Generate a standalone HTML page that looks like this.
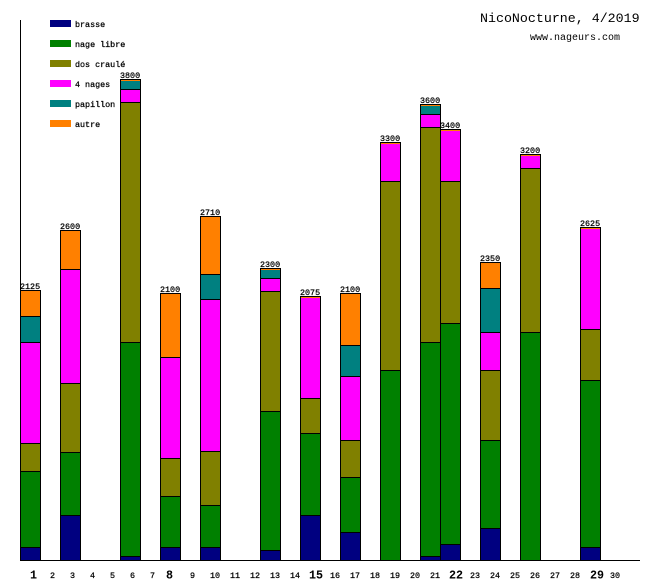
<!DOCTYPE html>
<html><head><meta charset="utf-8"><style>
html,body{margin:0;padding:0;background:#fff;}
svg{display:block;}
text{font-family:"Liberation Mono","DejaVu Sans Mono",monospace;fill:#000;}
.s{font-size:8.4px;stroke:#000;stroke-width:0.25px;}
.b{font-size:11.7px;font-weight:bold;}
</style></head><body>
<svg width="660" height="580" viewBox="0 0 660 580" xmlns="http://www.w3.org/2000/svg">
<rect width="660" height="580" fill="#fff"/>
<g shape-rendering="crispEdges">
<line x1="20.5" y1="20" x2="20.5" y2="561" stroke="#000"/>
<line x1="20" y1="560.5" x2="640" y2="560.5" stroke="#000"/>
</g>
<!-- legend -->
<g shape-rendering="crispEdges">
<rect x="50" y="20" width="21" height="7" fill="#000080"/>
<rect x="50" y="40" width="21" height="7" fill="#008000"/>
<rect x="50" y="60" width="21" height="7" fill="#808000"/>
<rect x="50" y="80" width="21" height="7" fill="#ff00ff"/>
<rect x="50" y="100" width="21" height="7" fill="#008080"/>
<rect x="50" y="120" width="21" height="7" fill="#ff8000"/>
</g>
<g>
<text class="s" x="75" y="27">brasse</text>
<text class="s" x="75" y="47">nage libre</text>
<text class="s" x="75" y="67">dos craulé</text>
<text class="s" x="75" y="87">4 nages</text>
<text class="s" x="75" y="107">papillon</text>
<text class="s" x="75" y="127">autre</text>
</g>
<text x="480" y="22" style="font-size:13.3px">NicoNocturne, 4/2019</text>
<text x="530" y="40" style="font-size:10px">www.nageurs.com</text>
<g id="bars" shape-rendering="crispEdges" stroke="#000" stroke-width="1"></g>
<g id="thin" shape-rendering="crispEdges"></g>
<g id="vals"></g>
<g id="xl"></g>
</svg>
<script>
var C={br:"#000080",nl:"#008000",dos:"#808000",n4:"#ff00ff",pap:"#008080",au:"#ff8000"};
var bars=[
[1,2125,[["au",290,316],["pap",316,342],["n4",342,443],["dos",443,471],["nl",471,547],["br",547,560]],0],
[3,2600,[["au",230,269],["n4",269,383],["dos",383,452],["nl",452,515],["br",515,560]],0],
[6,3800,[["pap",79,89],["n4",89,102],["dos",102,342],["nl",342,556],["br",556,560]],1],
[8,2100,[["au",293,357],["n4",357,458],["dos",458,496],["nl",496,547],["br",547,560]],0],
[10,2710,[["au",216,274],["pap",274,299],["n4",299,451],["dos",451,505],["nl",505,547],["br",547,560]],0],
[13,2300,[["pap",268,278],["n4",278,291],["dos",291,411],["nl",411,550],["br",550,560]],1],
[15,2075,[["n4",296,398],["dos",398,433],["nl",433,515],["br",515,560]],1],
[17,2100,[["au",293,345],["pap",345,376],["n4",376,440],["dos",440,477],["nl",477,532],["br",532,560]],0],
[19,3300,[["n4",142,181],["dos",181,370],["nl",370,560]],1],
[21,3600,[["pap",104,114],["n4",114,127],["dos",127,342],["nl",342,556],["br",556,560]],1],
[22,3400,[["n4",129,181],["dos",181,323],["nl",323,544],["br",544,560]],1],
[24,2350,[["au",262,288],["pap",288,332],["n4",332,370],["dos",370,440],["nl",440,528],["br",528,560]],0],
[26,3200,[["n4",154,168],["dos",168,332],["nl",332,560]],1],
[29,2625,[["n4",227,329],["dos",329,380],["nl",380,547],["br",547,560]],1]
];
var NS="http://www.w3.org/2000/svg";
function el(n,a,p,t){var e=document.createElementNS(NS,n);for(var k in a)e.setAttribute(k,a[k]);if(t!=null)e.textContent=t;document.getElementById(p).appendChild(e);return e;}
bars.forEach(function(b){
 var x=20*b[0];var segs=b[2].slice().reverse();
 segs.forEach(function(s){el("rect",{x:x+0.5,y:s[1]+0.5,width:20,height:s[2]-s[1],fill:C[s[0]]},"bars");});
 var top=b[2][0][1];
 if(b[3])el("rect",{x:x+1,y:top+1,width:19,height:1,fill:C.au},"thin");
 el("text",{x:x,y:top-1,"class":"s"},"vals",String(b[1]));
});
var big={1:30,8:166,15:309,22:449,29:590};
for(var d=1;d<=30;d++){
 if(big[d])el("text",{x:big[d],y:578.5,"class":"b"},"xl",String(d));
 else el("text",{x:20*d+10,y:578,"class":"s"},"xl",String(d));
}
</script>
</body></html>
